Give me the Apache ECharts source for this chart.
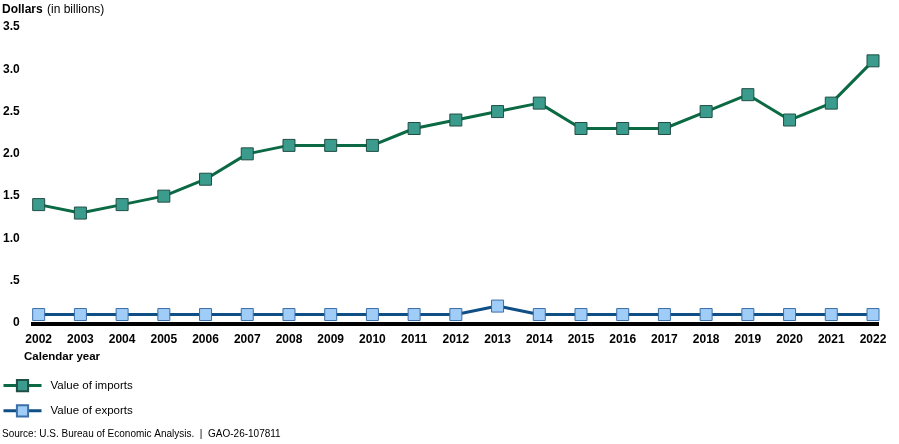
<!DOCTYPE html>
<html><head><meta charset="utf-8">
<script src="https://cdn.jsdelivr.net/npm/echarts@6/dist/echarts.min.js"></script>
<style>html,body{margin:0;padding:0;background:#fff}#c{width:899px;height:444px}</style>
</head><body><div id="c"></div>
<script>
const years = ['2002','2003','2004','2005','2006','2007','2008','2009','2010','2011','2012','2013','2014','2015','2016','2017','2018','2019','2020','2021','2022'];
const imports = [1.4,1.3,1.4,1.5,1.7,2.0,2.1,2.1,2.1,2.3,2.4,2.5,2.6,2.3,2.3,2.3,2.5,2.7,2.4,2.6,3.1];
const exports_ = [0.1,0.1,0.1,0.1,0.1,0.1,0.1,0.1,0.1,0.1,0.1,0.2,0.1,0.1,0.1,0.1,0.1,0.1,0.1,0.1,0.1];
const yTicks = {0:'0',0.5:'.5',1:'1.0',1.5:'1.5',2:'2.0',2.5:'2.5',3:'3.0',3.5:'3.5'};
const FONT = '"Liberation Sans", Arial, sans-serif';
const chart = echarts.init(document.getElementById('c'), null, {renderer:'canvas'});
function graphics(y0){
  const g = [
    {type:'text',left:2,top:4,style:{text:'Dollars',font:'bold 12px '+FONT,fill:'#000'}},
    {type:'text',left:47,top:4,style:{text:'(in billions)',font:'12px '+FONT,fill:'#000'}},
    {type:'text',left:24,top:351,style:{text:'Calendar year',font:'bold 11.5px '+FONT,fill:'#000'}},
    {type:'text',left:2,top:429,style:{text:'Source: U.S. Bureau of Economic Analysis.  |  GAO-26-107811',font:'10px '+FONT,fill:'#000'}}
  ];
  if (y0 !== undefined) g.push({type:'line',z:1,shape:{x1:31,y1:y0+1,x2:879,y2:y0+1},style:{stroke:'#000',lineWidth:4}});
  return g;
}
chart.setOption({
  animation:false,
  textStyle:{fontFamily:FONT},
  grid:{left:36,right:26,top:27,bottom:121,containLabel:false},
  xAxis:{type:'category',data:years,boundaryGap:false,
    axisLine:{show:false},axisTick:{show:false},
    axisLabel:{color:'#000',fontWeight:'bold',fontSize:12,fontFamily:FONT,margin:11}},
  yAxis:{type:'value',min:0,max:3.5,interval:0.5,
    splitLine:{show:false},axisLine:{show:false},axisTick:{show:false},
    axisLabel:{color:'#000',fontWeight:'bold',fontSize:12,fontFamily:FONT,margin:19,
      formatter:v=>yTicks[v]!==undefined?yTicks[v]:''}},
  legend:{orient:'vertical',left:2,top:379,padding:0,itemWidth:38,itemHeight:14,itemGap:12,
    lineStyle:{width:3},
    textStyle:{fontSize:11.5,color:'#000',fontFamily:FONT,padding:[0,0,0,4]},
    data:['Value of imports','Value of exports']},
  series:[
    {name:'Value of imports',type:'line',data:imports,symbol:'rect',symbolSize:12,
      lineStyle:{color:'#0b6a44',width:3},
      itemStyle:{color:'#3b9b8c',borderColor:'#1f4f45',borderWidth:1}},
    {name:'Value of exports',type:'line',data:exports_,symbol:'rect',symbolSize:12,
      lineStyle:{color:'#104f86',width:3},
      itemStyle:{color:'#9fcdf7',borderColor:'#3a6fa8',borderWidth:1}}
  ],
  graphic:graphics()
});
const y0 = chart.convertToPixel({yAxisIndex:0},0);
chart.setOption({graphic:graphics(y0)},{replaceMerge:['graphic']});
</script></body></html>
